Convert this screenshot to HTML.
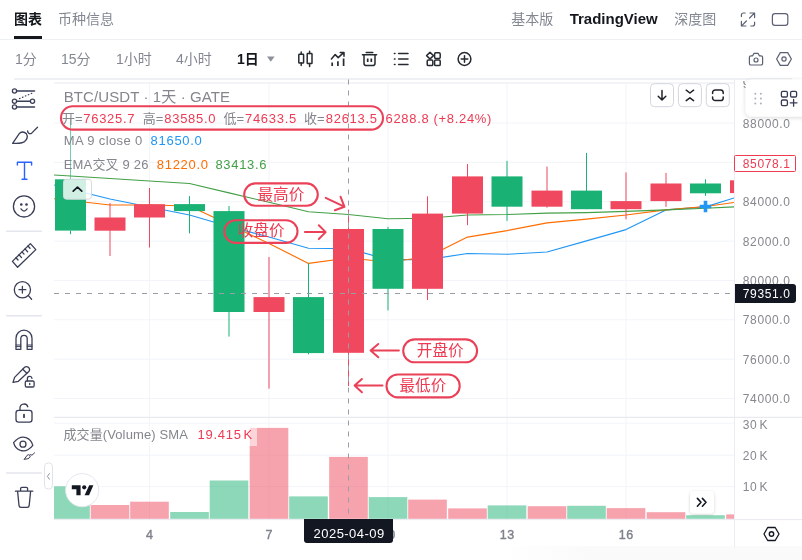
<!DOCTYPE html>
<html lang="zh-CN"><head><meta charset="utf-8"><title>BTC/USDT</title>
<style>
html,body{margin:0;padding:0;background:#fff;}
body{width:802px;height:560px;position:relative;overflow:hidden;font-family:"Liberation Sans","Noto Sans CJK SC",sans-serif;}
.t{position:absolute;white-space:nowrap;line-height:20px;height:20px;}
.num{letter-spacing:0.7px;}
i{font-style:normal;margin-left:2px;}
.ax{line-height:16px;height:16px;font-size:12px !important;letter-spacing:0.63px;}
svg{position:absolute;left:0;top:0;}
#bot{position:absolute;left:500px;top:546px;width:302px;height:14px;background:linear-gradient(to right,rgba(250,250,251,0),#fafafb 30%);}
</style></head><body>
<div id="bot"></div>
<div style="position:absolute;left:0;top:38.5px;width:802px;height:1.5px;background:#eff0f3;"></div>
<div style="position:absolute;left:14px;top:78px;width:778px;height:1.5px;background:#eff0f3;"></div>
<div style="position:absolute;left:14px;top:36px;width:28px;height:2.6px;background:#14171c;"></div>
<svg width="802" height="560" viewBox="0 0 802 560">
<defs>
<clipPath id="cp"><rect x="54" y="83" width="680" height="437"/></clipPath>
</defs>
<line x1="54" x2="734" y1="123.0" y2="123.0" stroke="#f2f4f9" stroke-width="1"/>
<line x1="54" x2="734" y1="162.4" y2="162.4" stroke="#f2f4f9" stroke-width="1"/>
<line x1="54" x2="734" y1="201.7" y2="201.7" stroke="#f2f4f9" stroke-width="1"/>
<line x1="54" x2="734" y1="241.1" y2="241.1" stroke="#f2f4f9" stroke-width="1"/>
<line x1="54" x2="734" y1="280.5" y2="280.5" stroke="#f2f4f9" stroke-width="1"/>
<line x1="54" x2="734" y1="319.8" y2="319.8" stroke="#f2f4f9" stroke-width="1"/>
<line x1="54" x2="734" y1="359.2" y2="359.2" stroke="#f2f4f9" stroke-width="1"/>
<line x1="54" x2="734" y1="398.5" y2="398.5" stroke="#f2f4f9" stroke-width="1"/>
<line x1="54" x2="734" y1="423.2" y2="423.2" stroke="#f2f4f9" stroke-width="1"/>
<line x1="54" x2="734" y1="455.2" y2="455.2" stroke="#f2f4f9" stroke-width="1"/>
<line x1="54" x2="734" y1="486.6" y2="486.6" stroke="#f2f4f9" stroke-width="1"/>
<line x1="149.5" x2="149.5" y1="83" y2="519" stroke="#f2f4f9" stroke-width="1"/>
<line x1="269.0" x2="269.0" y1="83" y2="519" stroke="#f2f4f9" stroke-width="1"/>
<line x1="388.0" x2="388.0" y1="83" y2="519" stroke="#f2f4f9" stroke-width="1"/>
<line x1="507.0" x2="507.0" y1="83" y2="519" stroke="#f2f4f9" stroke-width="1"/>
<line x1="626.0" x2="626.0" y1="83" y2="519" stroke="#f2f4f9" stroke-width="1"/>
<line x1="54" x2="734" y1="83" y2="83" stroke="#e8eaf0" stroke-width="1"/>
<line x1="54" x2="802" y1="417.3" y2="417.3" stroke="#e8eaf0" stroke-width="1.2"/>
<line x1="54" x2="802" y1="519.6" y2="519.6" stroke="#e9ebf0" stroke-width="1"/>
<line x1="734.5" x2="734.5" y1="80" y2="547" stroke="#eaecf2" stroke-width="1"/>
<g clip-path="url(#cp)">
<rect x="51.2" y="486.3" width="38.6" height="32.5" fill="#19b274" fill-opacity="0.5"/>
<rect x="90.7" y="505" width="38.6" height="13.8" fill="#f0485e" fill-opacity="0.5"/>
<rect x="130.2" y="501.7" width="38.6" height="17.1" fill="#f0485e" fill-opacity="0.5"/>
<rect x="170.2" y="512" width="38.6" height="6.8" fill="#19b274" fill-opacity="0.5"/>
<rect x="209.7" y="480.5" width="38.6" height="38.3" fill="#19b274" fill-opacity="0.5"/>
<rect x="249.7" y="427.9" width="38.6" height="90.9" fill="#f0485e" fill-opacity="0.5"/>
<rect x="289.2" y="496.4" width="38.6" height="22.4" fill="#19b274" fill-opacity="0.5"/>
<rect x="329.2" y="456.9" width="38.6" height="61.9" fill="#f0485e" fill-opacity="0.5"/>
<rect x="368.7" y="497.1" width="38.6" height="21.7" fill="#19b274" fill-opacity="0.5"/>
<rect x="408.2" y="499.6" width="38.6" height="19.2" fill="#f0485e" fill-opacity="0.5"/>
<rect x="448.2" y="508.4" width="38.6" height="10.4" fill="#f0485e" fill-opacity="0.5"/>
<rect x="487.7" y="505.4" width="38.6" height="13.4" fill="#19b274" fill-opacity="0.5"/>
<rect x="527.7" y="506.2" width="38.6" height="12.6" fill="#f0485e" fill-opacity="0.5"/>
<rect x="567.2" y="505.8" width="38.6" height="13.0" fill="#19b274" fill-opacity="0.5"/>
<rect x="606.7" y="508.1" width="38.6" height="10.7" fill="#f0485e" fill-opacity="0.5"/>
<rect x="646.7" y="512.2" width="38.6" height="6.6" fill="#f0485e" fill-opacity="0.5"/>
<rect x="686.2" y="515.2" width="38.6" height="3.6" fill="#19b274" fill-opacity="0.5"/>
<rect x="726.2" y="514.4" width="38.6" height="4.4" fill="#f0485e" fill-opacity="0.5"/>
<polyline points="54.0,185.0 70.5,189.2 110.0,199.0 149.5,207.0 189.5,215.0 229.0,226.5 269.0,237.0 308.5,248.2 348.5,248.6 388.0,259.6 427.5,259.6 467.5,253.5 507.0,254.3 547.0,252.0 586.5,240.9 626.0,229.6 666.0,209.9 705.5,206.9 734.0,198.0" fill="none" stroke="#2196f3" stroke-width="1.15" stroke-linejoin="round"/>
<polyline points="54.0,198.7 70.5,200.5 110.0,205.0 149.5,205.0 189.5,206.0 229.0,224.5 269.0,243.5 308.5,263.4 348.5,258.0 388.0,262.0 427.5,257.0 467.5,237.1 507.0,230.6 547.0,222.9 586.5,219.1 626.0,215.0 666.0,209.9 705.5,206.5 734.0,202.5" fill="none" stroke="#ff6d00" stroke-width="1.15" stroke-linejoin="round"/>
<polyline points="54.0,175.0 70.5,176.0 110.0,178.5 149.5,181.0 189.5,183.5 229.0,192.9 269.0,202.3 308.5,211.8 348.5,214.5 388.0,218.7 427.5,218.3 467.5,215.0 507.0,214.5 547.0,213.1 586.5,212.6 626.0,211.4 666.0,209.9 705.5,208.3 734.0,206.9" fill="none" stroke="#43a047" stroke-width="1.15" stroke-linejoin="round"/>
<line x1="70.5" x2="70.5" y1="118" y2="179.3" stroke="#19b274" stroke-width="1" opacity="0.6"/>
<line x1="70.5" x2="70.5" y1="230.6" y2="234.2" stroke="#19b274" stroke-width="1"/>
<rect x="55.0" y="179.3" width="31" height="51.3" fill="#19b274"/>
<line x1="110.0" x2="110.0" y1="203" y2="256" stroke="#f0485e" stroke-width="1"/>
<rect x="94.5" y="217.5" width="31" height="13.2" fill="#f0485e"/>
<line x1="149.5" x2="149.5" y1="188" y2="247.5" stroke="#f0485e" stroke-width="1"/>
<rect x="134.0" y="204.2" width="31" height="13.3" fill="#f0485e"/>
<line x1="189.5" x2="189.5" y1="196.2" y2="233.4" stroke="#19b274" stroke-width="1"/>
<rect x="174.0" y="204.1" width="31" height="7.0" fill="#19b274"/>
<line x1="229.0" x2="229.0" y1="206" y2="336.6" stroke="#19b274" stroke-width="1"/>
<rect x="213.5" y="211.1" width="31" height="100.9" fill="#19b274"/>
<line x1="269.0" x2="269.0" y1="257" y2="388.6" stroke="#f0485e" stroke-width="1"/>
<rect x="253.5" y="297.1" width="31" height="14.9" fill="#f0485e"/>
<line x1="308.5" x2="308.5" y1="263.3" y2="354.3" stroke="#19b274" stroke-width="1"/>
<rect x="293.0" y="297.1" width="31" height="56.0" fill="#19b274"/>
<line x1="348.5" x2="348.5" y1="209.6" y2="386" stroke="#f0485e" stroke-width="1"/>
<rect x="333.0" y="229" width="31" height="123.8" fill="#f0485e"/>
<line x1="388.0" x2="388.0" y1="226.8" y2="310.4" stroke="#19b274" stroke-width="1"/>
<rect x="372.5" y="229" width="31" height="59.8" fill="#19b274"/>
<line x1="427.5" x2="427.5" y1="196.3" y2="300.1" stroke="#f0485e" stroke-width="1"/>
<rect x="412.0" y="213.6" width="31" height="75.2" fill="#f0485e"/>
<line x1="467.5" x2="467.5" y1="164.1" y2="225.2" stroke="#f0485e" stroke-width="1"/>
<rect x="452.0" y="176.4" width="31" height="37.2" fill="#f0485e"/>
<line x1="507.0" x2="507.0" y1="160.9" y2="220.9" stroke="#19b274" stroke-width="1"/>
<rect x="491.5" y="176.4" width="31" height="30.3" fill="#19b274"/>
<line x1="547.0" x2="547.0" y1="166.6" y2="207.7" stroke="#f0485e" stroke-width="1"/>
<rect x="531.5" y="190.6" width="31" height="16.1" fill="#f0485e"/>
<line x1="586.5" x2="586.5" y1="152.9" y2="209.2" stroke="#19b274" stroke-width="1"/>
<rect x="571.0" y="190.6" width="31" height="18.6" fill="#19b274"/>
<line x1="626.0" x2="626.0" y1="172.4" y2="219.3" stroke="#f0485e" stroke-width="1"/>
<rect x="610.5" y="201.1" width="31" height="8.1" fill="#f0485e"/>
<line x1="666.0" x2="666.0" y1="172.9" y2="206.9" stroke="#f0485e" stroke-width="1"/>
<rect x="650.5" y="183.5" width="31" height="17.6" fill="#f0485e"/>
<line x1="705.5" x2="705.5" y1="179.3" y2="195.9" stroke="#19b274" stroke-width="1"/>
<rect x="690.0" y="183.5" width="31" height="9.8" fill="#19b274"/>
<line x1="745.5" x2="745.5" y1="180.3" y2="193.1" stroke="#f0485e" stroke-width="1"/>
<rect x="730.0" y="180.3" width="31" height="12.8" fill="#f0485e"/>
<path d="M699.7 206.5h11.6M705.5 200.7v11.6" stroke="#2196f3" stroke-width="3.6" fill="none"/>
</g>
<line x1="54" x2="734" y1="293.5" y2="293.5" stroke="#9a9da7" stroke-width="1" stroke-dasharray="5 6"/>
<line x1="348.5" x2="348.5" y1="79.5" y2="519" stroke="#9a9da7" stroke-width="1" stroke-dasharray="5 6"/>
<rect x="61" y="106.2" width="322.0" height="23.4" rx="11.7" fill="none" stroke="#eb4158" stroke-width="2.1"/>
<rect x="244.2" y="183.4" width="73.6" height="22.4" rx="11.2" fill="none" stroke="#eb4158" stroke-width="2.1"/>
<rect x="224.3" y="220.3" width="73.2" height="22.6" rx="11.3" fill="none" stroke="#eb4158" stroke-width="2.1"/>
<rect x="403.2" y="339.4" width="73.9" height="22.9" rx="11.5" fill="none" stroke="#eb4158" stroke-width="2.1"/>
<rect x="386.5" y="374.5" width="73.2" height="22.9" rx="11.4" fill="none" stroke="#eb4158" stroke-width="2.1"/>
<path d="M325.7 197.8L344.2 206.6M340.6 196.8L344.5 206.8L334.9 210.3" fill="none" stroke="#eb4158" stroke-width="2" stroke-linecap="round" stroke-linejoin="round"/>
<path d="M304.9 232.1H325.2M318.8 225.3L325.7 232.1L318.8 239" fill="none" stroke="#eb4158" stroke-width="2" stroke-linecap="round" stroke-linejoin="round"/>
<path d="M398.9 350.5H371M378.3 344L370.6 350.5L378.3 357.3" fill="none" stroke="#eb4158" stroke-width="2" stroke-linecap="round" stroke-linejoin="round"/>
<path d="M382.5 385.5H355M361.9 379L354.6 385.5L361.9 392.3" fill="none" stroke="#eb4158" stroke-width="2" stroke-linecap="round" stroke-linejoin="round"/>

<g fill="none" stroke="#3a3e56" stroke-width="1.3" stroke-linecap="round" stroke-linejoin="round">
<!-- fib -->
<path d="M17 91H34.5M17 101.3H30M17 107H34.5" stroke-width="1.5"/>
<circle cx="14.5" cy="91" r="2.1" fill="#fff"/><circle cx="14.5" cy="101.3" r="2.1" fill="#fff"/><circle cx="32.5" cy="101.3" r="2.1" fill="#fff"/><circle cx="14.5" cy="107" r="2.1" fill="#fff"/>
<path d="M19.5 98.6L32 93.2" stroke-dasharray="0.6 2.6" stroke-width="1.2"/>
<!-- brush -->
<path d="M12.6 143.3L19.6 133.2Q23.2 130.6 26.4 133.8Q28.8 138 24.6 141.6Q21 143.9 12.6 143.3Z"/>
<path d="M27.6 130.8Q28 134.2 31.2 133.6L37.5 127.2"/>
<!-- smiley -->
<circle cx="24" cy="206.4" r="10.6"/>
<circle cx="21.3" cy="204.5" r="0.7" fill="#3a3e56"/><circle cx="26.5" cy="204.5" r="0.7" fill="#3a3e56"/>
<path d="M21 208.9Q24 213.2 27.1 208.9"/>
<!-- ruler -->
<path d="M12.4 261.4L30.4 243.6L35.8 249.6L17.6 267.3Z"/>
<path d="M16 257.8l2 2.2M19 254.8l2.6 2.8M22 251.9l2 2.2M25 248.9l2.6 2.8M28 246l2 2.2"/>
<!-- zoom -->
<circle cx="22.4" cy="289.7" r="8.1"/><path d="M19 289.7h6.8M22.4 286.3v6.8M28.4 295.6L31.6 299.2"/>
<!-- magnet -->
<path d="M16 349.4V338.2a8 8 0 0 1 16 0V349.4H27.2V338.6a3.2 3.2 0 0 0-6.4 0V349.4Z"/>
<path d="M16 345h4.8M27.2 345H32M16 346.6h4.8M27.2 346.6H32" stroke-width="1"/>
<!-- pencil + lock -->
<path d="M13 382.4L14.6 377.4L24.6 367.3a2.6 2.6 0 0 1 3.7 0l0.5 0.5a2.6 2.6 0 0 1 0 3.7L18.4 381.3Z"/>
<path d="M22.8 369.2l4 4" />
<rect x="25.3" y="381" width="8.8" height="6" rx="1.3"/>
<path d="M27.4 381v-2a2.3 2.3 0 0 1 4.6 -0.6"/>
<path d="M29.7 383.4v1.2"/>
<!-- lock -->
<rect x="16" y="410.3" width="16" height="11.9" rx="2.6"/>
<path d="M20 410.3V408a4 4 0 0 1 7.8-1.2"/>
<path d="M24 414.6v2.6" stroke-width="1.8"/>
<!-- eye -->
<path d="M13.6 442.6Q19.5 435.6 26 437.6Q31.5 439.6 32.8 445.4Q27 452.6 20.4 450.4Q15 448.4 13.6 442.6Z"/>
<circle cx="23" cy="444.2" r="3"/>
<path d="M24.4 459.2L27 455.4Q28.6 454 30 455.4Q30.8 457 29 458.2Q27.6 459.2 24.4 459.2ZM30.6 454.4Q31 455.4 32 455.2L34.6 452.8" stroke-width="1"/>
<!-- trash -->
<path d="M15.4 491.2H32.8M20.6 491V488.6a1.3 1.3 0 0 1 1.3-1.3h4.4a1.3 1.3 0 0 1 1.3 1.3V491M17.6 491.4L19 505.4a2 2 0 0 0 2 1.9h6.2a2 2 0 0 0 2-1.9L30.6 491.4"/>
</g>
<!-- T icon -->
<path d="M17.4 165V162.2H31.6V165M24.5 162.2V179.2M22 179.2H27" fill="none" stroke="#2962ff" stroke-width="1.4" stroke-linecap="round" stroke-linejoin="round"/>
<!-- toolbar separators -->
<path d="M6 231.2H42M6 315.8H42M6 473H42" stroke="#e3e6ed" stroke-width="1.5"/>


<g fill="none" stroke="#262a31" stroke-width="1.5" stroke-linecap="round" stroke-linejoin="round">
<!-- candles -->
<rect x="298.8" y="54.3" width="4.8" height="8.7" rx="0.6"/><path d="M301.2 52v2.3M301.2 63v2.6"/>
<rect x="307.2" y="53.6" width="4.8" height="10" rx="0.6"/><path d="M309.6 51.2v2.4M309.6 63.6v2.8"/>
<!-- indicators -->
<path d="M331.4 59L335.2 54.6L338.2 57.6L343.6 52.6M340.2 52.4H344V56.2"/>
<path d="M332.2 62.6v3.4M337.9 61.2v4.8M343.6 58.6v7.4" stroke-linecap="butt" stroke-width="1.7"/>
<!-- trash -->
<path d="M362.4 54.8H376.6M366.2 52.6H372.8M364 55v8.2a2.4 2.4 0 0 0 2.4 2.4h6.2a2.4 2.4 0 0 0 2.4-2.4V55"/>
<path d="M367.7 58.4v3.6M371.3 58.4v3.6" stroke-width="1.7" stroke-linecap="butt"/>
<!-- list -->
<path d="M398.6 53.6H408M398.6 59H408M398.6 64.4H408"/>
<path d="M394.4 53.6h0.6M394.4 59h0.6M394.4 64.4h0.6"/>
<!-- grid -->
<rect x="434.6" y="52.8" width="5.6" height="5.6" rx="1.2"/><rect x="427.2" y="60" width="5.6" height="5.6" rx="1.2"/><rect x="434.6" y="60" width="5.6" height="5.6" rx="1.2"/>
<path d="M430 52.2L433.4 55.6L430 59L426.6 55.6Z"/>
<!-- plus circle -->
<circle cx="464.5" cy="59" r="6.4"/><path d="M461.2 59h6.6M464.5 55.7v6.6"/>
</g>
<g fill="none" stroke="#5b6073" stroke-width="1.2" stroke-linecap="round" stroke-linejoin="round">
<!-- expand -->
<path d="M741.4 16.6V15a2 2 0 0 1 2-2h1.8M750 13h4.6v4.6M754.4 13.2L749.6 18M754.6 22.2V24a2 2 0 0 1-2 2h-1.8M746 26h-4.6v-4.6M741.6 25.8L746.4 21"/>
<!-- rect -->
<rect x="772.4" y="13.6" width="15.4" height="11.8" rx="2.6"/>
<!-- camera -->
<path d="M749.4 57.4a1.6 1.6 0 0 1 1.6-1.6h1.6l1.4-2.4h4l1.4 2.4h1.6a1.6 1.6 0 0 1 1.6 1.6v6a1.6 1.6 0 0 1-1.6 1.6h-10a1.6 1.6 0 0 1-1.6-1.6Z"/>
<circle cx="756" cy="60" r="2"/>
<!-- hex -->
<path d="M776.6 59L780.3 52.6H787.7L791.4 59L787.7 65.4H780.3Z"/><circle cx="784" cy="59" r="2.1"/>
</g>
<!-- dropdown tri -->
<path d="M267 56.4H274.6L270.8 61.8Z" fill="#8d919c"/>

</svg>
<div id="txt1" style="will-change:transform;">
<div class="t " style="left:14px;top:9px;font-size:14px;font-weight:bold;color:#14171c;">图表</div>
<div class="t " style="left:58px;top:9px;font-size:14px;color:#838791;">币种信息</div>
<div class="t " style="left:511.3px;top:9px;font-size:14px;color:#838791;">基本版</div>
<div class="t " style="left:569.7px;top:9px;font-size:15px;font-weight:bold;color:#14171c;">TradingView</div>
<div class="t " style="left:674.3px;top:9px;font-size:14px;color:#838791;">深度图</div>
<div class="t " style="left:15px;top:49px;font-size:14px;color:#838791;">1分</div>
<div class="t " style="left:61px;top:49px;font-size:14px;color:#838791;">15分</div>
<div class="t " style="left:116px;top:49px;font-size:14px;color:#838791;">1小时</div>
<div class="t " style="left:176px;top:49px;font-size:14px;color:#838791;">4小时</div>
<div class="t " style="left:237px;top:49px;font-size:14px;font-weight:bold;color:#14171c;">1日</div>
<div class="t " style="left:63.7px;top:86.5px;font-size:15px;color:#84868d;letter-spacing:0.1px;">BTC/USDT · 1天 · GATE</div>
<div class="t " style="left:62px;top:109.0px;font-size:13px;color:#84868d;">开=</div>
<div class="t num" style="left:83.3px;top:109.0px;font-size:13px;color:#ee3a52;">76325.7</div>
<div class="t " style="left:142.8px;top:109.0px;font-size:13px;color:#84868d;">高=</div>
<div class="t num" style="left:164.3px;top:109.0px;font-size:13px;color:#ee3a52;">83585.0</div>
<div class="t " style="left:223.4px;top:109.0px;font-size:13px;color:#84868d;">低=</div>
<div class="t num" style="left:245px;top:109.0px;font-size:13px;color:#ee3a52;">74633.5</div>
<div class="t " style="left:304px;top:109.0px;font-size:13px;color:#84868d;">收=</div>
<div class="t num" style="left:325.8px;top:109.0px;font-size:13px;color:#ee3a52;">82613.5</div>
<div class="t num" style="left:385.5px;top:109.0px;font-size:13px;color:#ee3a52;">6288.8</div>
<div class="t num" style="left:433.4px;top:109.0px;font-size:13px;color:#ee3a52;">(+8.24%)</div>
<div class="t " style="left:63.7px;top:131.1px;font-size:13px;color:#84868d;letter-spacing:0.38px;">MA 9 close 0</div>
<div class="t num" style="left:150.6px;top:131.1px;font-size:13px;color:#2196f3;">81650.0</div>
<div class="t " style="left:63.7px;top:154.8px;font-size:13px;color:#84868d;letter-spacing:0.18px;">EMA交叉 9 26</div>
<div class="t num" style="left:156.8px;top:154.8px;font-size:13px;color:#ff6d00;">81220.0</div>
<div class="t num" style="left:215.4px;top:154.8px;font-size:13px;color:#43a047;">83413.6</div>
<div style="position:absolute;left:60px;top:426px;width:197px;height:20px;background:rgba(255,255,255,0.55);"></div>
<div class="t " style="left:63.4px;top:424.7px;font-size:13px;color:#84868d;letter-spacing:0.12px;">成交量(Volume) SMA</div>
<div class="t num" style="left:197.6px;top:424.7px;font-size:13px;color:#ee3a52;">19.415<i>K</i></div>
<div class="t " style="left:257.5px;top:184.5px;font-size:15.6px;color:#ee3a52;">最高价</div>
<div class="t " style="left:237.8px;top:221.3px;font-size:15.6px;color:#ee3a52;">收盘价</div>
<div class="t " style="left:416.8px;top:341px;font-size:15.6px;color:#ee3a52;">开盘价</div>
<div class="t " style="left:399.5px;top:376px;font-size:15.6px;color:#ee3a52;">最低价</div>
<div style="position:absolute;left:740px;top:80.6px;width:62px;height:12px;overflow:hidden;"><div class="t num ax" style="left:2.8px;top:-4.9px;font-size:13px;color:#85878e;">90000.0</div></div>
<div class="t num ax" style="left:742.8px;top:115.6px;font-size:13px;color:#85878e;">88000.0</div>
<div class="t num ax" style="left:742.8px;top:194.29999999999998px;font-size:13px;color:#85878e;">84000.0</div>
<div class="t num ax" style="left:742.8px;top:233.7px;font-size:13px;color:#85878e;">82000.0</div>
<div class="t num ax" style="left:742.8px;top:273.1px;font-size:13px;color:#85878e;">80000.0</div>
<div class="t num ax" style="left:742.8px;top:312.40000000000003px;font-size:13px;color:#85878e;">78000.0</div>
<div class="t num ax" style="left:742.8px;top:351.8px;font-size:13px;color:#85878e;">76000.0</div>
<div class="t num ax" style="left:742.8px;top:391.1px;font-size:13px;color:#85878e;">74000.0</div>
<div class="t num ax" style="left:742.8px;top:416.90000000000003px;font-size:13px;color:#85878e;">30<i>K</i></div>
<div class="t num ax" style="left:742.8px;top:447.8px;font-size:13px;color:#85878e;">20<i>K</i></div>
<div class="t num ax" style="left:742.8px;top:479.20000000000005px;font-size:13px;color:#85878e;">10<i>K</i></div>
<div class="t tl" style="left:129.5px;top:524.6px;width:40px;text-align:center;font-size:12.5px;color:#7f828b;-webkit-text-stroke:0.4px #7f828b;letter-spacing:0.7px;text-indent:0.7px;">4</div>
<div class="t tl" style="left:249.0px;top:524.6px;width:40px;text-align:center;font-size:12.5px;color:#7f828b;-webkit-text-stroke:0.4px #7f828b;letter-spacing:0.7px;text-indent:0.7px;">7</div>
<div class="t tl" style="left:368.0px;top:524.6px;width:40px;text-align:center;font-size:12.5px;color:#7f828b;-webkit-text-stroke:0.4px #7f828b;letter-spacing:0.7px;text-indent:0.7px;">10</div>
<div class="t tl" style="left:487.0px;top:524.6px;width:40px;text-align:center;font-size:12.5px;color:#7f828b;-webkit-text-stroke:0.4px #7f828b;letter-spacing:0.7px;text-indent:0.7px;">13</div>
<div class="t tl" style="left:606.0px;top:524.6px;width:40px;text-align:center;font-size:12.5px;color:#7f828b;-webkit-text-stroke:0.4px #7f828b;letter-spacing:0.7px;text-indent:0.7px;">16</div>
<div style="position:absolute;left:734px;top:155.2px;width:61.7px;height:16.6px;border:1px solid #f03a50;background:#fff;border-radius:1.5px;box-sizing:border-box;"></div>
<div class="t num ax" style="left:742.8px;top:155.6px;font-size:13px;color:#ee3a52;">85078.1</div>
<div style="position:absolute;left:734.5px;top:283.8px;width:61.2px;height:19.2px;background:#131722;border-radius:0 3px 3px 0;"></div>
<div class="t num ax" style="left:742.8px;top:285.5px;font-size:13px;color:#fff;">79351.0</div>
<div style="position:absolute;left:303.7px;top:519.3px;width:89.4px;height:23.6px;background:#131722;border-radius:0 0 3px 3px;"></div>
<div class="t " style="left:313.6px;top:524.3px;font-size:13px;color:#fff;letter-spacing:0.45px;">2025-04-09</div>
</div>
<svg width="802" height="560" viewBox="0 0 802 560" style="pointer-events:none">
<defs>
<filter id="sh" x="-30%" y="-30%" width="160%" height="160%"><feDropShadow dx="0" dy="1" stdDeviation="1.6" flood-color="#000" flood-opacity="0.18"/></filter>
<filter id="sh2" x="-30%" y="-30%" width="160%" height="160%"><feDropShadow dx="0" dy="1" stdDeviation="2.2" flood-color="#000" flood-opacity="0.16"/></filter>
</defs>

<g fill="#fff" stroke="#d3d6de" stroke-width="1">
<rect x="650.5" y="83.7" width="23" height="23" rx="4"/><rect x="678.4" y="83.7" width="23" height="23" rx="4"/><rect x="706.3" y="83.7" width="23" height="23" rx="4"/>
</g>
<g fill="none" stroke="#1f2329" stroke-width="1.5" stroke-linecap="round" stroke-linejoin="round">
<path d="M662 90.6v9.2M658.2 96.2L662 100L665.8 96.2"/>
<path d="M686.2 90.2L689.9 93L693.6 90.2M686.2 100.6L689.9 97.8L693.6 100.6"/>
<path d="M712.6 93.6v-1a2.6 2.6 0 0 1 2.6-2.6h5.4a2.6 2.6 0 0 1 2.6 2.6v1M712.6 97v1a2.6 2.6 0 0 0 2.6 2.6h5.4a2.6 2.6 0 0 0 2.6-2.6v-1"/>
</g>
<!-- collapse legend button -->
<rect x="63.5" y="179.2" width="28" height="20" rx="3" fill="#fff" fill-opacity="0.8" stroke="#d6d9e0" stroke-width="1"/>
<path d="M73.2 191.2L77.5 187.2L81.8 191.2" fill="none" stroke="#131722" stroke-width="1.7" stroke-linecap="round" stroke-linejoin="round"/>
<!-- left handle -->
<rect x="44.5" y="462.8" width="8" height="26.4" rx="4" fill="#fff" stroke="#dfe2ea" stroke-width="1"/>
<path d="M49.4 473.6L47.4 476.4L49.4 479.2" fill="none" stroke="#8d919c" stroke-width="1" stroke-linecap="round" stroke-linejoin="round"/>
<!-- TV logo -->
<circle cx="82.2" cy="490.2" r="16.6" fill="#fff" stroke="#e3e6ed" stroke-width="1"/>
<path d="M71.8 485.2H80.6V495.2H76.4V489.2H71.8Z" fill="#131722"/>
<circle cx="84.2" cy="487.3" r="2.1" fill="#131722"/>
<path d="M89.2 485.2H93.4L89 495.2H84.6Z" fill="#131722"/>
<!-- >> button -->
<rect x="690" y="491" width="24" height="22.6" rx="4" fill="#fff" filter="url(#sh)"/>
<path d="M697.4 498.4L701 502.3L697.4 506.2M702.4 498.4L706 502.3L702.4 506.2" fill="none" stroke="#131722" stroke-width="1.6" stroke-linecap="round" stroke-linejoin="round"/>
<!-- bottom-right hex -->
<path d="M764 534L767.7 527.5H775.2L779 534L775.2 540.5H767.7Z" fill="none" stroke="#131722" stroke-width="1.3" stroke-linejoin="round"/><circle cx="771.5" cy="534" r="2.2" fill="none" stroke="#131722" stroke-width="1.4"/>
<!-- floating widget -->
<rect x="745.6" y="79.6" width="70" height="36.8" rx="6" fill="#fff" filter="url(#sh2)"/>
<g fill="#adb1bc"><circle cx="755.3" cy="93.8" r="1"/><circle cx="760.9" cy="93.8" r="1"/><circle cx="755.3" cy="98.6" r="1"/><circle cx="760.9" cy="98.6" r="1"/><circle cx="755.3" cy="103.5" r="1"/><circle cx="760.9" cy="103.5" r="1"/></g>
<g fill="none" stroke="#363a52" stroke-width="1.3" stroke-linecap="round" stroke-linejoin="round">
<rect x="781.4" y="91.4" width="6" height="5.6" rx="1.3"/><rect x="790.6" y="91.4" width="6" height="5.6" rx="1.3"/><rect x="781.4" y="100" width="6" height="5.6" rx="1.3"/>
<path d="M790.2 102.8h6.8M793.6 99.4v6.8"/>
</g>

</svg>
</body></html>
